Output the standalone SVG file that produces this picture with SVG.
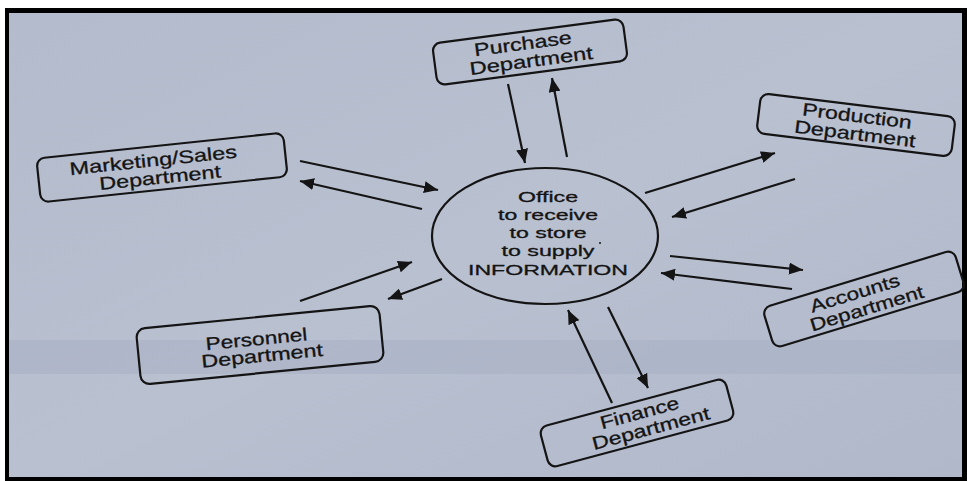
<svg xmlns="http://www.w3.org/2000/svg" width="967" height="481" viewBox="0 0 967 481">
<style>
.box{fill:none;stroke:#141414;stroke-width:2.2}
.lbl{font-family:"Liberation Sans",Arial,sans-serif;font-size:18px;fill:#141414;stroke:#141414;stroke-width:0.3;text-anchor:middle}
.ctr{font-family:"Liberation Sans",Arial,sans-serif;font-size:15px;fill:#141414;stroke:#141414;stroke-width:0.3;text-anchor:middle}
.arr{stroke:#141414;stroke-width:2.2;fill:none;marker-end:url(#ah)}
</style>
<defs>
<marker id="ah" markerUnits="userSpaceOnUse" markerWidth="15" markerHeight="12" refX="14" refY="6" orient="auto">
<path d="M0,0 L14,6 L0,12 z" fill="#141414"/>
</marker>
<linearGradient id="bg" x1="0" y1="0" x2="1" y2="1">
<stop offset="0" stop-color="#b3bbcc"/>
<stop offset="0.5" stop-color="#b9c0d0"/>
<stop offset="1" stop-color="#b0b8ca"/>
</linearGradient>
</defs>
<rect x="0" y="0" width="967" height="481" fill="#ffffff"/>
<rect x="5" y="8" width="962" height="473" fill="#000000"/>
<rect x="9" y="13" width="953" height="464" fill="url(#bg)"/>
<rect x="9" y="340" width="953" height="34" fill="#a9b1c4" opacity="0.6"/>

<g id="center">
<ellipse cx="545" cy="236" rx="113" ry="68" class="box"/>
<text class="ctr" x="548" y="202" textLength="60" lengthAdjust="spacingAndGlyphs">Office</text>
<text class="ctr" x="548" y="220" textLength="100" lengthAdjust="spacingAndGlyphs">to receive</text>
<text class="ctr" x="548" y="238" textLength="77" lengthAdjust="spacingAndGlyphs">to store</text>
<text class="ctr" x="548" y="256" textLength="93" lengthAdjust="spacingAndGlyphs">to supply</text>
<circle cx="600" cy="243" r="1" fill="#141414"/>
<text class="ctr" x="548" y="275" textLength="160" lengthAdjust="spacingAndGlyphs">INFORMATION</text>
</g>

<g id="purchase" transform="translate(530,52) rotate(-7.5)">
<rect x="-96" y="-21" width="192" height="42" rx="8" class="box"/>
<text class="lbl" x="-6" y="-3" textLength="98" lengthAdjust="spacingAndGlyphs">Purchase</text>
<text class="lbl" x="0" y="15" textLength="124" lengthAdjust="spacingAndGlyphs">Department</text>
</g>

<g id="marketing" transform="translate(162,167.5) rotate(-6)">
<rect x="-124" y="-22" width="248" height="44" rx="8" class="box"/>
<text class="lbl" x="-8" y="-2" textLength="168" lengthAdjust="spacingAndGlyphs">Marketing/Sales</text>
<text class="lbl" x="-3" y="16" textLength="122" lengthAdjust="spacingAndGlyphs">Department</text>
</g>

<g id="production" transform="translate(856,125) rotate(7)">
<rect x="-98" y="-20" width="196" height="40" rx="8" class="box"/>
<text class="lbl" x="0" y="-3" textLength="110" lengthAdjust="spacingAndGlyphs">Production</text>
<text class="lbl" x="0" y="15" textLength="122" lengthAdjust="spacingAndGlyphs">Department</text>
</g>

<g id="accounts" transform="translate(864,299) rotate(-17)">
<rect x="-100" y="-21" width="200" height="42" rx="8" class="box"/>
<text class="lbl" x="-7" y="-2" textLength="93" lengthAdjust="spacingAndGlyphs">Accounts</text>
<text class="lbl" x="0" y="16" textLength="118" lengthAdjust="spacingAndGlyphs">Department</text>
</g>

<g id="personnel" transform="translate(260,345) rotate(-5.6)">
<rect x="-122" y="-28" width="244" height="56" rx="9" class="box"/>
<text class="lbl" x="-3" y="0" textLength="102" lengthAdjust="spacingAndGlyphs">Personnel</text>
<text class="lbl" x="1" y="17" textLength="122" lengthAdjust="spacingAndGlyphs">Department</text>
</g>

<g id="finance" transform="translate(637,423) rotate(-15)">
<rect x="-96" y="-21" width="192" height="42" rx="8" class="box"/>
<text class="lbl" x="5" y="-3" textLength="81" lengthAdjust="spacingAndGlyphs">Finance</text>
<text class="lbl" x="12" y="15" textLength="121" lengthAdjust="spacingAndGlyphs">Department</text>
</g>

<g id="connectors">
<line class="arr" x1="300" y1="161" x2="438" y2="190"/>
<line class="arr" x1="422" y1="209" x2="300" y2="181"/>
<line class="arr" x1="508" y1="84" x2="525" y2="163"/>
<line class="arr" x1="567" y1="157" x2="552" y2="78"/>
<line class="arr" x1="645" y1="193" x2="775" y2="153"/>
<line class="arr" x1="795" y1="179" x2="672" y2="217"/>
<line class="arr" x1="670" y1="256" x2="803" y2="270"/>
<line class="arr" x1="792" y1="289" x2="661" y2="273"/>
<line class="arr" x1="300" y1="301" x2="412" y2="262"/>
<line class="arr" x1="442" y1="279" x2="388" y2="299"/>
<line class="arr" x1="612" y1="403" x2="568" y2="310"/>
<line class="arr" x1="608" y1="307" x2="648" y2="388"/>
</g>
</svg>
